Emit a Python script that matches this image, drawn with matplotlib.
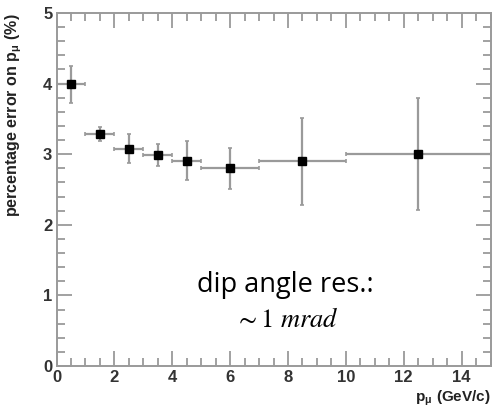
import matplotlib
matplotlib.use("Agg")
import matplotlib.pyplot as plt
from matplotlib.ticker import MultipleLocator

plt.rcParams["mathtext.fontset"] = "stix"

# Data
bin_lo = [0, 1, 2, 3, 4, 5, 7, 10]
bin_hi = [1, 2, 3, 4, 5, 7, 10, 15]
y_vals = [3.99, 3.29, 3.08, 2.99, 2.91, 2.81, 2.90, 3.00]
y_up = [4.25, 3.38, 3.28, 3.15, 3.19, 3.09, 3.51, 3.79]
y_dn = [3.73, 3.18, 2.88, 2.83, 2.64, 2.51, 2.28, 2.21]

x_c = [(a + b) / 2 for a, b in zip(bin_lo, bin_hi)]
x_err = [(b - a) / 2 for a, b in zip(bin_lo, bin_hi)]
y_err = [[v - d for v, d in zip(y_vals, y_dn)], [u - v for u, v in zip(y_up, y_vals)]]

W, H = 493, 413
fig = plt.figure(figsize=(W / 100, H / 100), dpi=100)
ax = fig.add_axes([56.5 / W, (H - 366) / H, (490.5 - 56.5) / W, (366 - 13) / H])

gray = "#9a9a9a"
ax.errorbar(x_c, y_vals, xerr=x_err, yerr=y_err, fmt="none", ecolor=gray,
            elinewidth=1.6, capsize=1.5, capthick=1.2, zorder=2)
ax.plot(x_c, y_vals, "s", color="black", markersize=5.5, zorder=3)

ax.set_xlim(0, 15)
ax.set_ylim(0, 5)
for s in ax.spines.values():
    s.set_color(gray)
    s.set_linewidth(1.4)

ax.xaxis.set_major_locator(MultipleLocator(2))
ax.xaxis.set_minor_locator(MultipleLocator(0.5))
ax.yaxis.set_major_locator(MultipleLocator(1))
ax.yaxis.set_minor_locator(MultipleLocator(0.2))
ax.tick_params(which="both", direction="in", top=True, right=True, color=gray, width=1.3)
ax.tick_params(which="major", length=11)
ax.tick_params(which="minor", length=5.5)
ax.tick_params(axis="both", labelsize=12, pad=3)
for lab in ax.get_xticklabels() + ax.get_yticklabels():
    lab.set_fontweight("bold")
    lab.set_family("Liberation Sans")
    lab.set_color("#333333")

fig.text(14 / W, 1 - 115 / H, r"percentage error on p$_{\mathregular{\mu}}$ (%)",
         rotation=90, ha="center", va="center", fontsize=11.5, fontweight="bold",
         family="Liberation Sans", color="#222222")
fig.text(491 / W, 1 - 398 / H, r"p$_{\mathregular{\mu}}$ (GeV/c)",
         ha="right", va="center", fontsize=11, fontweight="bold",
         family="Liberation Sans", color="#222222")

ax.text(0.527, 0.229, "dip angle res.:", transform=ax.transAxes, ha="center",
        va="center", fontsize=19.5, family="Open Sans", color="black")
ax.text(0.53, 0.13, r"$\sim 1\ mrad$", transform=ax.transAxes, ha="center",
        va="center", fontsize=19, color="black")

fig.savefig("out.png", dpi=100)
